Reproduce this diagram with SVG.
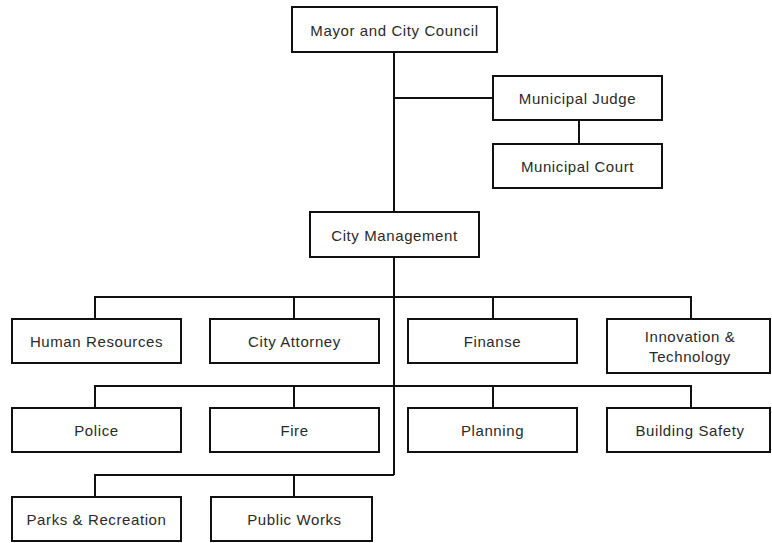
<svg xmlns="http://www.w3.org/2000/svg" width="772" height="543" viewBox="0 0 772 543">
<style>
.box{fill:#fff;stroke:#111;stroke-width:2}
.ln{fill:none;stroke:#111;stroke-width:2}
text{font-family:"Liberation Sans",Arial,sans-serif;font-size:15px;letter-spacing:0.6px;fill:#2a2a2a;text-anchor:middle;dominant-baseline:central}
</style>
<rect width="772" height="543" fill="#fff"/>
<g id="connectors">
<path class="ln" d="M394 52V475"/>
<path class="ln" d="M394 98H493"/>
<path class="ln" d="M579 120V144"/>
<path class="ln" d="M95 319V297H691V319"/>
<path class="ln" d="M294 297V319M493 297V319"/>
<path class="ln" d="M95 408V386H691V408"/>
<path class="ln" d="M294 386V408M493 386V408"/>
<path class="ln" d="M95 497V475H394M294 475V497"/>
</g>
<g id="mayor"><rect class="box" x="292" y="7" width="205" height="45"/><text x="394.5" y="30">Mayor and City Council</text></g>
<g id="judge"><rect class="box" x="493" y="76" width="169" height="44"/><text x="577.5" y="98">Municipal Judge</text></g>
<g id="court"><rect class="box" x="493" y="144" width="169" height="44"/><text x="577.5" y="166">Municipal Court</text></g>
<g id="citymgmt"><rect class="box" x="310" y="212" width="169" height="45"/><text x="394.5" y="235">City Management</text></g>
<g id="hr"><rect class="box" x="12" y="319" width="169" height="44"/><text x="96.5" y="341">Human Resources</text></g>
<g id="attorney"><rect class="box" x="210" y="319" width="169" height="44"/><text x="294.5" y="341">City Attorney</text></g>
<g id="finance"><rect class="box" x="408" y="319" width="169" height="44"/><text x="492.5" y="341">Finanse</text></g>
<g id="innovation"><rect class="box" x="607" y="319" width="163" height="54"/><text x="690" y="336">Innovation &amp;</text><text x="690" y="356">Technology</text></g>
<g id="police"><rect class="box" x="12" y="408" width="169" height="44"/><text x="96.5" y="430">Police</text></g>
<g id="fire"><rect class="box" x="210" y="408" width="169" height="44"/><text x="294.5" y="430">Fire</text></g>
<g id="planning"><rect class="box" x="408" y="408" width="169" height="44"/><text x="492.5" y="430">Planning</text></g>
<g id="building"><rect class="box" x="607" y="408" width="163" height="44"/><text x="690" y="430">Building Safety</text></g>
<g id="parks"><rect class="box" x="12" y="497" width="169" height="44"/><text x="96.5" y="519">Parks &amp; Recreation</text></g>
<g id="publicworks"><rect class="box" x="211" y="497" width="161" height="44"/><text x="294.5" y="519">Public Works</text></g>
</svg>
